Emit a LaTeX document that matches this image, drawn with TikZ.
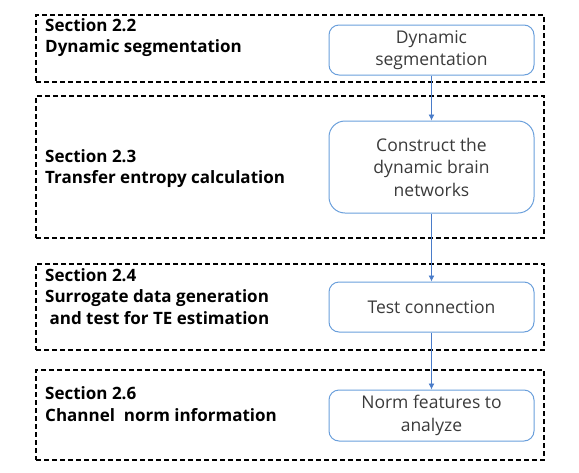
\documentclass[tikz,border=0pt]{standalone}
\usepackage{fontspec}
\setmainfont{Open Sans}
\usetikzlibrary{positioning, arrows.meta}
\definecolor{boxblue}{HTML}{6A9FDB}
\definecolor{arrowblue}{HTML}{4A7CC9}
\definecolor{textgray}{HTML}{3A3A3A}

\begin{document}
\begin{tikzpicture}[
    x=1pt, y=-1pt,
    section/.style={
        draw,
        line width=1.2pt,
        dash pattern=on 5pt off 3pt,
        minimum width=508pt,
        inner sep=0pt
    },
    label/.style={
        anchor=west,
        align=left,
        inner sep=0pt,
        font=\bfseries\fontsize{17}{21.5}\selectfont
    },
    stepbox/.style={
        draw=boxblue,
        line width=1pt,
        rounded corners=10pt,
        minimum width=205pt,
        minimum height=50pt,
        align=center,
        text=textgray,
        font=\fontsize{17.5}{22.5}\selectfont
    },
    arr/.style={
        -{Latex[length=6pt, width=6pt]},
        draw=arrowblue,
        line width=0.8pt
    }
]
\useasboundingbox (0,0) rectangle (579,472);

% Dashed section frames
\node[section, minimum height=67pt] (sec1) at (290,48.5) {};
\node[section, minimum height=142pt] (sec2) at (290,167) {};
\node[section, minimum height=86pt] (sec3) at (290,307) {};
\node[section, minimum height=90pt] (sec4) at (290,415) {};

% Section labels
\node[label] (lab1) at (45,37.5) {Section 2.2\\Dynamic segmentation};
\node[label] (lab2) at (45,168.5) {Section 2.3\\Transfer entropy calculation};
\node[label] (lab3) at (45,296.5) {Section 2.4\\Surrogate data generation\\\ and test for TE estimation};
\node[label] (lab4) at (45,404) {Section 2.6\\Channel\ \ norm information};

% Processing steps
\node[stepbox] (seg) at (431.5,50) {Dynamic\\segmentation};
\node[stepbox, minimum height=92pt, rounded corners=16pt] (net) at (431.5,167)
{Construct the\\dynamic brain\\networks};
\node[stepbox] (test) at (431.5,307) {Test connection};
\node[stepbox, minimum height=51pt] (norm) at (431.5,415.5)
{Norm features to\\analyze};

% Connections
\draw[arr] (seg) -- (net);
\draw[arr] (net) -- (test);
\draw[arr] (test) -- (norm);

\end{tikzpicture}
\end{document}
